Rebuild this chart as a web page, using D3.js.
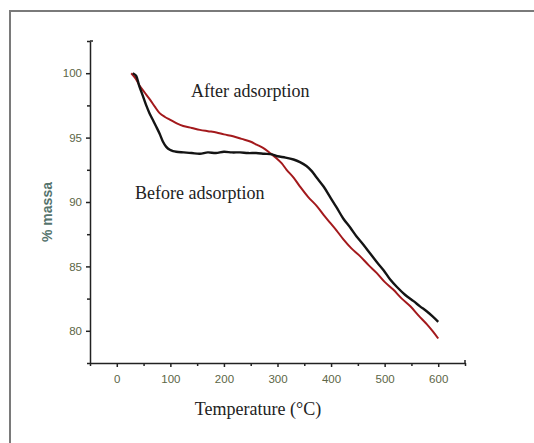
<!DOCTYPE html>
<html>
<head>
<meta charset="utf-8">
<script src="https://cdn.jsdelivr.net/npm/d3@7"></script>
<style>
  body { margin: 0; background: #fff; }
  svg { display: block; }
</style>
</head>
<body>
<div id="main-content"></div>
<script>
'use strict'

// temperature (°C) / % massa
const beforeTemp = [30, 36, 42, 49, 55, 61, 67, 73, 80, 86, 92, 99, 105, 111, 125, 140, 155, 170, 185, 200, 215, 230, 245, 260, 275, 290, 300, 315, 330, 342, 354, 364, 373, 386, 398, 410, 423, 436, 448, 460, 473, 486, 498, 510, 523, 538, 554, 566, 579, 590, 600]
const beforeMass = [100, 99.8, 99.0, 98.2, 97.5, 96.9, 96.4, 95.9, 95.3, 94.7, 94.3, 94.05, 93.95, 93.9, 93.85, 93.8, 93.75, 93.85, 93.8, 93.9, 93.85, 93.85, 93.8, 93.8, 93.75, 93.7, 93.55, 93.45, 93.3, 93.1, 92.8, 92.4, 91.9, 91.2, 90.4, 89.6, 88.7, 88.0, 87.3, 86.7, 86.0, 85.3, 84.7, 84.0, 83.4, 82.8, 82.3, 81.9, 81.5, 81.1, 80.7]

const afterTemp = [27, 35, 43, 52, 62, 71, 80, 90, 99, 112, 124, 140, 155, 170, 186, 200, 217, 233, 249, 261, 273, 286, 298, 308, 317, 330, 342, 357, 373, 386, 398, 410, 423, 438, 454, 470, 485, 500, 516, 532, 548, 563, 579, 590, 600]
const afterMass = [100, 99.6, 99.0, 98.5, 97.95, 97.4, 96.9, 96.6, 96.4, 96.1, 95.9, 95.75, 95.6, 95.5, 95.4, 95.25, 95.1, 94.9, 94.7, 94.45, 94.2, 93.8, 93.4, 93.0, 92.5, 91.9, 91.2, 90.4, 89.7, 89.0, 88.4, 87.8, 87.1, 86.4, 85.8, 85.1, 84.5, 83.8, 83.2, 82.5, 81.9, 81.2, 80.5, 79.95, 79.4]

const xTicks = [0, 100, 200, 300, 400, 500, 600]
const yTicks = [80, 85, 90, 95, 100]
const xMinorTicks = [-50, 50, 150, 250, 350, 450, 550, 650]
const yMinorTicks = [77.5, 82.5, 87.5, 92.5, 97.5, 102.5]

const width = 534,
    height = 443

const svg = d3.select('#main-content').append('svg')
  .attr('width', width)
  .attr('height', height)

// outer frame (only top and left edges show in the crop)
svg.append('path')
  .attr('d', `M10,${height}V11H${width}`)
  .attr('fill', 'none')
  .attr('stroke', '#7a7a7a')
  .attr('stroke-width', 2)

const plotLeft = 90, plotRight = 465, plotTop = 41, plotBottom = 363

const x = d3.scaleLinear().domain([-50, 650]).range([plotLeft, plotRight])
const y = d3.scaleLinear().domain([77.5, 102.5]).range([plotBottom, plotTop])

const tickColor = '#5c6646'
const tickFont = 'Liberation Sans, Arial, sans-serif'

// x axis
const xAxis = svg.append('g')
  .attr('transform', `translate(0,${plotBottom})`)
  .call(d3.axisBottom(x).tickValues(xTicks).tickSize(4).tickPadding(8).tickSizeOuter(0))
xAxis.select('.domain').attr('stroke', '#222').attr('stroke-width', 1.5)
xAxis.selectAll('.tick line').attr('stroke', '#222').attr('stroke-width', 1.5)
xAxis.selectAll('.tick text')
  .attr('fill', tickColor)
  .style('font-family', tickFont)
  .style('font-size', '11.5px')
svg.append('g')
  .attr('transform', `translate(0,${plotBottom})`)
  .call(d3.axisBottom(x).tickValues(xMinorTicks).tickSize(3).tickFormat('').tickSizeOuter(0))
  .call(g => g.select('.domain').remove())
  .selectAll('.tick line').attr('stroke', '#222').attr('stroke-width', 1.5)
// end cap at right of x axis
svg.append('line')
  .attr('x1', x(650)).attr('x2', x(650))
  .attr('y1', plotBottom).attr('y2', plotBottom - 3)
  .attr('stroke', '#222').attr('stroke-width', 1.5)

// y axis
const yAxis = svg.append('g')
  .attr('transform', `translate(${plotLeft},0)`)
  .call(d3.axisLeft(y).tickValues(yTicks).tickSize(4).tickPadding(4).tickSizeOuter(0))
yAxis.select('.domain').attr('stroke', '#222').attr('stroke-width', 1.5)
yAxis.selectAll('.tick line').attr('stroke', '#222').attr('stroke-width', 1.5)
yAxis.selectAll('.tick text')
  .attr('fill', tickColor)
  .style('font-family', tickFont)
  .style('font-size', '11.5px')
svg.append('g')
  .attr('transform', `translate(${plotLeft},0)`)
  .call(d3.axisLeft(y).tickValues(yMinorTicks).tickSize(3).tickFormat('').tickSizeOuter(0))
  .call(g => g.select('.domain').remove())
  .selectAll('.tick line').attr('stroke', '#222').attr('stroke-width', 1.5)
svg.append('line')
  .attr('x1', plotLeft).attr('x2', plotLeft + 3)
  .attr('y1', plotTop).attr('y2', plotTop)
  .attr('stroke', '#222').attr('stroke-width', 1.5)

// curves
const line = d3.line()
  .x(d => x(d[0]))
  .y(d => y(d[1]))
  .curve(d3.curveCatmullRom)

svg.append('path')
  .datum(d3.zip(afterTemp, afterMass))
  .attr('fill', 'none')
  .attr('stroke', '#a3191c')
  .attr('stroke-width', 2)
  .attr('d', line)

svg.append('path')
  .datum(d3.zip(beforeTemp, beforeMass))
  .attr('fill', 'none')
  .attr('stroke', '#141414')
  .attr('stroke-width', 2.4)
  .attr('d', line)

// labels
const serif = 'Liberation Serif, Times New Roman, serif'
svg.append('text')
  .attr('x', 191).attr('y', 97)
  .style('font-family', serif).style('font-size', '18px')
  .attr('fill', '#222')
  .text('After adsorption')

svg.append('text')
  .attr('x', 135).attr('y', 199)
  .style('font-family', serif).style('font-size', '18px')
  .attr('fill', '#222')
  .text('Before adsorption')

svg.append('text')
  .attr('x', 258).attr('y', 415)
  .attr('text-anchor', 'middle')
  .style('font-family', serif).style('font-size', '18px')
  .attr('fill', '#222')
  .text('Temperature (°C)')

svg.append('text')
  .attr('transform', 'translate(52,212) rotate(-90)')
  .attr('text-anchor', 'middle')
  .style('font-family', tickFont)
  .style('font-size', '14px')
  .style('font-weight', 'bold')
  .attr('fill', '#55736c')
  .text('% massa')
</script>
</body>
</html>
